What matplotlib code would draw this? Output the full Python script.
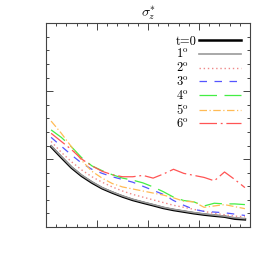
import matplotlib
matplotlib.use("Agg")
import matplotlib.pyplot as plt
import numpy as np

plt.rcParams['font.family'] = ['cmr10', 'DejaVu Serif']
plt.rcParams['mathtext.fontset'] = 'cm'
plt.rcParams['axes.unicode_minus'] = False

# data
x = [0.5, 1.5, 2.5, 3.5, 4.5, 5.5, 6.5, 7.5, 8.5, 9.5,
     10.5, 11.5, 12.5, 13.5, 14.5, 15.5, 16.5, 17.5, 18.5, 19.5]
labels = ['t=0', r'$\mathrm{1^o}$', r'$\mathrm{2^o}$', r'$\mathrm{3^o}$',
          r'$\mathrm{4^o}$', r'$\mathrm{5^o}$', r'$\mathrm{6^o}$']
t0 = [5.92, 5.13, 4.37, 3.76, 3.27, 2.85, 2.53, 2.24, 1.99, 1.79,
      1.60, 1.40, 1.25, 1.13, 1.01, 0.91, 0.83, 0.76, 0.61, 0.56]
d1 = [5.98, 5.2, 4.43, 3.82, 3.33, 2.9, 2.58, 2.29, 2.04, 1.84,
      1.65, 1.45, 1.3, 1.18, 1.06, 0.96, 0.88, 0.8, 0.68, 0.62]
d2 = [6.3, 5.5, 4.8, 4.2, 3.7, 3.3, 2.95, 2.65, 2.4, 2.2,
      2.0, 1.8, 1.6, 1.45, 1.3, 1.15, 1.0, 0.9, 0.8, 0.75]
d3 = [6.6, 5.95, 5.3, 4.7, 4.25, 3.95, 3.7, 3.5, 3.3, 3.0,
      2.7, 2.4, 1.95, 1.6, 1.3, 1.15, 1.1, 1.05, 0.95, 0.85]
d4 = [7.15, 6.6, 5.9, 5.1, 4.5, 4.15, 3.85, 3.6, 3.45, 3.25,
      2.95, 2.6, 2.2, 1.95, 1.85, 1.55, 1.75, 1.7, 1.7, 1.65]
d5 = [7.8, 6.9, 5.9, 4.9, 4.1, 3.6, 3.2, 2.95, 2.8, 2.65,
      2.5, 2.35, 2.15, 1.9, 1.85, 1.45, 1.55, 1.65, 1.5, 1.35]
d6 = [6.9, 6.3, 5.7, 5.0, 4.5, 4.1, 3.85, 3.7, 3.7, 3.8,
      3.6, 3.9, 4.25, 3.95, 3.8, 3.65, 3.4, 4.05, 3.5, 2.9]
series = [t0, d1, d2, d3, d4, d5, d6]

styles = [
    dict(color='black', lw=1.8, ls='-'),
    dict(color='#999999', lw=1.2, ls='-'),
    dict(color='#ee8888', lw=1.0, ls=(0, (1, 2))),
    dict(color='#5555ff', lw=0.9, ls=(0, (6, 6))),
    dict(color='#44ee44', lw=0.9, ls=(0, (14, 6))),
    dict(color='#ffbb55', lw=0.9, ls=(0, (6, 2, 1, 2))),
    dict(color='#ff5555', lw=0.9, ls=(0, (14, 3, 1.5, 3))),
]

fig = plt.figure(figsize=(2.73, 2.73), dpi=100)
ax = fig.add_axes([0.1685, 0.1685, 0.7473, 0.7462])

for y, lab, st in zip(series, labels, styles):
    ax.plot(x, y, label=lab, **st)

ax.set_xlim(0, 20)
ax.set_ylim(0, 15)
ax.xaxis.set_major_locator(matplotlib.ticker.MultipleLocator(5))
ax.xaxis.set_minor_locator(matplotlib.ticker.MultipleLocator(1))
ax.yaxis.set_major_locator(matplotlib.ticker.MultipleLocator(5))
ax.yaxis.set_minor_locator(matplotlib.ticker.MultipleLocator(1))
ax.tick_params(which='both', direction='in', top=True, right=True,
               labelbottom=False, labelleft=False, color='#444444', width=0.7)
ax.tick_params(which='major', length=5)
ax.tick_params(which='minor', length=2.5)
for s in ax.spines.values():
    s.set_linewidth(0.8)
    s.set_color('#444444')

ax.set_title(r'$\sigma^{*}_{z}$', fontsize=10, pad=5)

leg = ax.legend(loc='upper right', bbox_to_anchor=(0.954, 0.94),
                markerfirst=False, frameon=False,
                fontsize=9, handlelength=3.3, handletextpad=0.2,
                labelspacing=0.05, borderaxespad=0.0, borderpad=0.0)

# left-align legend labels while keeping handles in one column
fig.canvas.draw()
renderer = fig.canvas.get_renderer()
texts = leg.get_texts()
widths = [t.get_window_extent(renderer).width * 72.0 / fig.dpi for t in texts]
wmax = max(widths)
col = leg._legend_handle_box.get_children()[0]
for item, w in zip(col.get_children(), widths):
    item.sep = item.sep + (wmax - w)

fig.savefig('out.png', dpi=100)
